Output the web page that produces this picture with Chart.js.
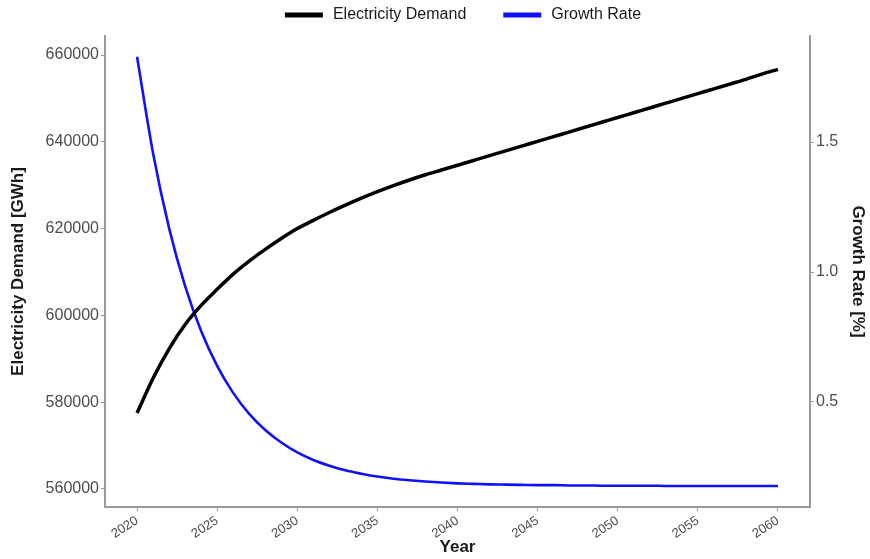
<!DOCTYPE html>
<html>
<head>
<meta charset="utf-8">
<script src="https://cdn.jsdelivr.net/npm/chart.js@4"></script>
<style>
  body { margin: 0; background: #fff; }
</style>
</head>
<body>
<canvas id="demandChart" width="870" height="559"></canvas>
<script>
const years = [
    2020, 2021, 2022, 2023, 2024, 2025, 2026, 2027, 2028, 2029,
    2030, 2031, 2032, 2033, 2034, 2035, 2036, 2037, 2038, 2039,
    2040, 2041, 2042, 2043, 2044, 2045, 2046, 2047, 2048, 2049,
    2050, 2051, 2052, 2053, 2054, 2055, 2056, 2057, 2058, 2059, 2060
];

// electricity demand in GWh
const demand = [
    577500, 585500, 592300, 597900, 602300, 606000, 609500, 612500, 615200, 617700,
    620000, 621900, 623700, 625400, 627000, 628500, 629900, 631200, 632400, 633500,
    634600, 635700, 636800, 637900, 639000, 640100, 641200, 642300, 643400, 644500,
    645600, 646700, 647800, 648900, 650000, 651100, 652200, 653300, 654400, 655600, 656700
];

// growth rate in %
const growth = [
    1.828, 1.457, 1.169, 0.946, 0.773, 0.639, 0.535, 0.454, 0.392, 0.344,
    0.306, 0.277, 0.255, 0.237, 0.224, 0.213, 0.205, 0.199, 0.194, 0.190,
    0.187, 0.185, 0.183, 0.182, 0.181, 0.180, 0.180, 0.179, 0.179, 0.178,
    0.178, 0.178, 0.178, 0.177, 0.177, 0.177, 0.177, 0.177, 0.177, 0.177, 0.177
];

const yearTicks = [2020, 2025, 2030, 2035, 2040, 2045, 2050, 2055, 2060];
const demandTicks = [560000, 580000, 600000, 620000, 640000, 660000];
const growthTicks = [0.5, 1.0, 1.5];

Chart.defaults.font.family = "'Liberation Sans', Arial, sans-serif";

const axisGrey = '#999999';
const tickText = '#4d4d4d';

// legend drawn by hand so spacing can match the ggplot one
const topLegend = {
    id: 'topLegend',
    afterDraw(chart) {
        const ctx = chart.ctx;
        const items = chart.data.datasets;
        ctx.save();
        ctx.font = "16px 'Liberation Sans', Arial, sans-serif";
        ctx.textBaseline = 'middle';
        const lineLen = 38, gapText = 10, gapItem = 37, y = 15;
        let total = 0;
        items.forEach((d, i) => {
            total += lineLen + gapText + ctx.measureText(d.label).width;
            if (i < items.length - 1) total += gapItem;
        });
        let x = 463 - total / 2;
        items.forEach(d => {
            ctx.strokeStyle = d.borderColor;
            ctx.lineWidth = 5;
            ctx.beginPath();
            ctx.moveTo(x, y);
            ctx.lineTo(x + lineLen, y);
            ctx.stroke();
            x += lineLen + gapText;
            ctx.fillStyle = '#1a1a1a';
            ctx.fillText(d.label, x, y);
            x += ctx.measureText(d.label).width + gapItem;
        });
        ctx.restore();
    }
};

const ctx = document.getElementById('demandChart').getContext('2d');
new Chart(ctx, {
    type: 'line',
    data: {
        datasets: [{
            label: 'Electricity Demand',
            data: years.map((y, i) => ({ x: y, y: demand[i] })),
            borderColor: '#000000',
            borderWidth: 3.5,
            pointRadius: 0,
            cubicInterpolationMode: 'monotone',
            yAxisID: 'y'
        }, {
            label: 'Growth Rate',
            data: years.map((y, i) => ({ x: y, y: growth[i] })),
            borderColor: '#1010ff',
            borderWidth: 2.6,
            pointRadius: 0,
            cubicInterpolationMode: 'monotone',
            yAxisID: 'y1'
        }]
    },
    options: {
        responsive: false,
        animation: false,
        layout: { padding: { top: 36, left: 0, right: 0, bottom: 0 } },
        plugins: {
            legend: { display: false },
            tooltip: { enabled: false }
        },
        scales: {
            x: {
                type: 'linear',
                min: 2018,
                max: 2062,
                afterBuildTicks: s => { s.ticks = yearTicks.map(v => ({ value: v })); },
                afterFit: s => { s.height = 52; },
                grid: { drawOnChartArea: false, drawTicks: true, tickLength: 4, color: axisGrey },
                border: { display: true, color: axisGrey, width: 2 },
                ticks: {
                    color: tickText,
                    font: { size: 13 },
                    maxRotation: 33,
                    minRotation: 33,
                    padding: 2,
                    callback: v => String(v)
                },
                title: {
                    display: true,
                    text: 'Year',
                    color: '#1a1a1a',
                    font: { size: 17, weight: 'bold' },
                    padding: { top: 0, bottom: 1 }
                }
            },
            y: {
                position: 'left',
                min: 555850,
                max: 664380,
                afterBuildTicks: s => { s.ticks = demandTicks.map(v => ({ value: v })); },
                afterFit: s => { s.width = 105; },
                grid: { drawOnChartArea: false, drawTicks: true, tickLength: 4, color: axisGrey },
                border: { display: true, color: axisGrey, width: 2 },
                ticks: {
                    color: tickText,
                    font: { size: 16 },
                    padding: 2,
                    callback: v => String(v)
                },
                title: {
                    display: true,
                    text: 'Electricity Demand [GWh]',
                    color: '#1a1a1a',
                    font: { size: 17, weight: 'bold' },
                    padding: { top: 8, bottom: 0 }
                }
            },
            y1: {
                position: 'right',
                min: 0.096,
                max: 1.908,
                afterBuildTicks: s => { s.ticks = growthTicks.map(v => ({ value: v })); },
                afterFit: s => { s.width = 60; },
                grid: { drawOnChartArea: false, drawTicks: true, tickLength: 4, color: axisGrey },
                border: { display: true, color: axisGrey, width: 2 },
                ticks: {
                    color: tickText,
                    font: { size: 16 },
                    padding: 2,
                    callback: v => v.toFixed(1)
                },
                title: {
                    display: true,
                    text: 'Growth Rate [%]',
                    color: '#1a1a1a',
                    font: { size: 17, weight: 'bold' },
                    padding: { top: 2, bottom: 0 }
                }
            }
        }
    },
    plugins: [topLegend]
});
</script>
</body>
</html>
